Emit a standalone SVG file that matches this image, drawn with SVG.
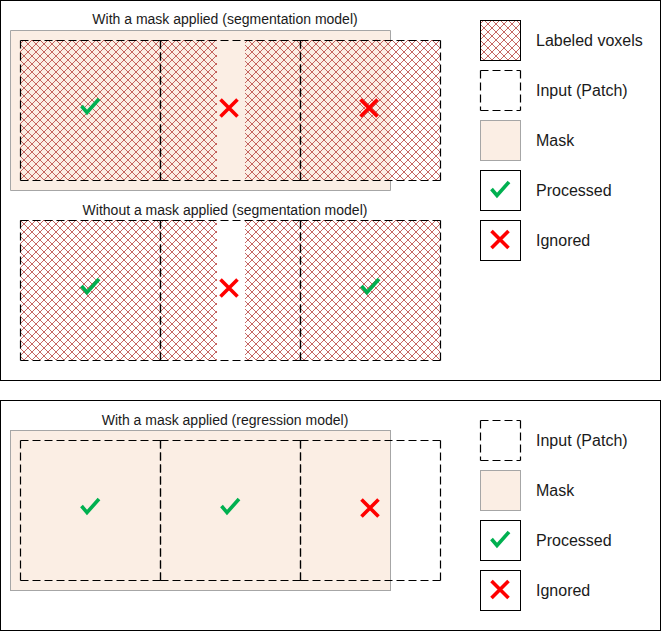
<svg xmlns="http://www.w3.org/2000/svg" xmlns:xlink="http://www.w3.org/1999/xlink" width="661" height="631" viewBox="0 0 661 631">
<style>
.panel{fill:#ffffff;stroke:#000000;stroke-width:1}
.mask{fill:#fbeee4;stroke:#a6a6a6;stroke-width:1}
.maskfill{fill:#fbeee4;stroke:none}
.maskline{fill:none;stroke:#a6a6a6;stroke-width:1}
.hatch{fill:url(#hatch);stroke:none}
.patch{fill:none;stroke:#000000;stroke-width:1.2;stroke-dasharray:8 4}
.box{fill:#ffffff;stroke:#000000;stroke-width:1}
.title{font-family:"Liberation Sans",Arial,sans-serif;font-size:14px;fill:#1a1a1a;text-anchor:middle}
.lbl{font-family:"Liberation Sans",Arial,sans-serif;font-size:16px;fill:#1a1a1a}
.ok{fill:none;stroke:#00b050;stroke-width:3.6;stroke-linejoin:miter}
.no{fill:none;stroke:#ff0000;stroke-width:3.6}
</style>
<defs>
<pattern id="hatch" patternUnits="userSpaceOnUse" x="0" y="0" width="8" height="8">
<path d="M0,0 L8,8 M8,0 L0,8" stroke="#b8403c" stroke-width="0.8" fill="none"/>
</pattern>
<path id="patch" class="patch" d="M0,0 h140 M140,0 v140 M0,140 h140 M0,0 v140"/>
<g id="check"><path class="ok" d="M-8.5,0 L-3,6.5 L9,-7"/></g>
<g id="cross"><path class="no" d="M-8.5,-8.5 L8.5,8.5 M8.5,-8.5 L-8.5,8.5"/></g>
</defs>

<rect class="panel" x="0.5" y="0.5" width="660" height="380"/>
<rect class="panel" x="0.5" y="400.5" width="660" height="230"/>

<g id="seg-mask">
<text class="title" x="225" y="24">With a mask applied (segmentation model)</text>
<rect class="maskfill" x="10.5" y="30.5" width="380" height="160"/>
<path class="maskline" d="M390.5,40 V30.5 H10.5 V190.5 H390.5 V180"/>
<rect class="hatch" x="20" y="40" width="197" height="140"/>
<rect class="hatch" x="245" y="40" width="195" height="140"/>
<use xlink:href="#patch" x="20.5" y="40.5"/>
<use xlink:href="#patch" x="160.5" y="40.5"/>
<use xlink:href="#patch" x="300.5" y="40.5"/>
<use xlink:href="#check" x="90" y="106"/>
<use xlink:href="#cross" x="229" y="108"/>
<use xlink:href="#cross" x="369" y="108"/>
</g>

<g id="seg-nomask">
<text class="title" x="225" y="215">Without a mask applied (segmentation model)</text>
<rect class="hatch" x="20" y="220" width="197" height="140"/>
<rect class="hatch" x="245" y="220" width="195" height="140"/>
<use xlink:href="#patch" x="20.5" y="220.5"/>
<use xlink:href="#patch" x="160.5" y="220.5"/>
<use xlink:href="#patch" x="300.5" y="220.5"/>
<use xlink:href="#check" x="90" y="286"/>
<use xlink:href="#cross" x="229" y="288"/>
<use xlink:href="#check" x="370" y="286"/>
</g>

<g id="reg-mask">
<text class="title" x="225" y="424.5">With a mask applied (regression model)</text>
<rect class="mask" x="10.5" y="430.5" width="380" height="160"/>
<use xlink:href="#patch" x="20.5" y="440.5"/>
<use xlink:href="#patch" x="160.5" y="440.5"/>
<use xlink:href="#patch" x="300.5" y="440.5"/>
<use xlink:href="#check" x="90" y="506"/>
<use xlink:href="#check" x="230" y="506"/>
<use xlink:href="#cross" x="370" y="508"/>
</g>

<g id="legend-top">
<g id="leg-labeled"><rect class="hatch" x="480.5" y="20.5" width="40" height="40"/><rect class="box" style="fill:none" x="480.5" y="20.5" width="40" height="40"/><text class="lbl" x="536" y="45.5">Labeled voxels</text></g>
<g id="leg-input"><path class="patch" d="M480.5,70.5 h40 M520.5,70.5 v40 M480.5,110.5 h40 M480.5,70.5 v40"/><text class="lbl" x="536" y="95.5">Input (Patch)</text></g>
<g id="leg-mask"><rect class="mask" x="480.5" y="120.5" width="40" height="40"/><text class="lbl" x="536" y="145.5">Mask</text></g>
<g id="leg-processed"><rect class="box" x="480.5" y="170.5" width="40" height="40"/><use xlink:href="#check" x="500" y="189"/><text class="lbl" x="536" y="195.5">Processed</text></g>
<g id="leg-ignored"><rect class="box" x="480.5" y="220.5" width="40" height="40"/><use xlink:href="#cross" x="500" y="239.5"/><text class="lbl" x="536" y="245.5">Ignored</text></g>
</g>

<g id="legend-bottom">
<g id="leg2-input"><path class="patch" d="M480.5,420.5 h40 M520.5,420.5 v40 M480.5,460.5 h40 M480.5,420.5 v40"/><text class="lbl" x="536" y="445.5">Input (Patch)</text></g>
<g id="leg2-mask"><rect class="mask" x="480.5" y="470.5" width="40" height="40"/><text class="lbl" x="536" y="495.5">Mask</text></g>
<g id="leg2-processed"><rect class="box" x="480.5" y="520.5" width="40" height="40"/><use xlink:href="#check" x="500" y="539"/><text class="lbl" x="536" y="545.5">Processed</text></g>
<g id="leg2-ignored"><rect class="box" x="480.5" y="570.5" width="40" height="40"/><use xlink:href="#cross" x="500" y="589.5"/><text class="lbl" x="536" y="595.5">Ignored</text></g>
</g>

<g id="connectors"/>
</svg>
